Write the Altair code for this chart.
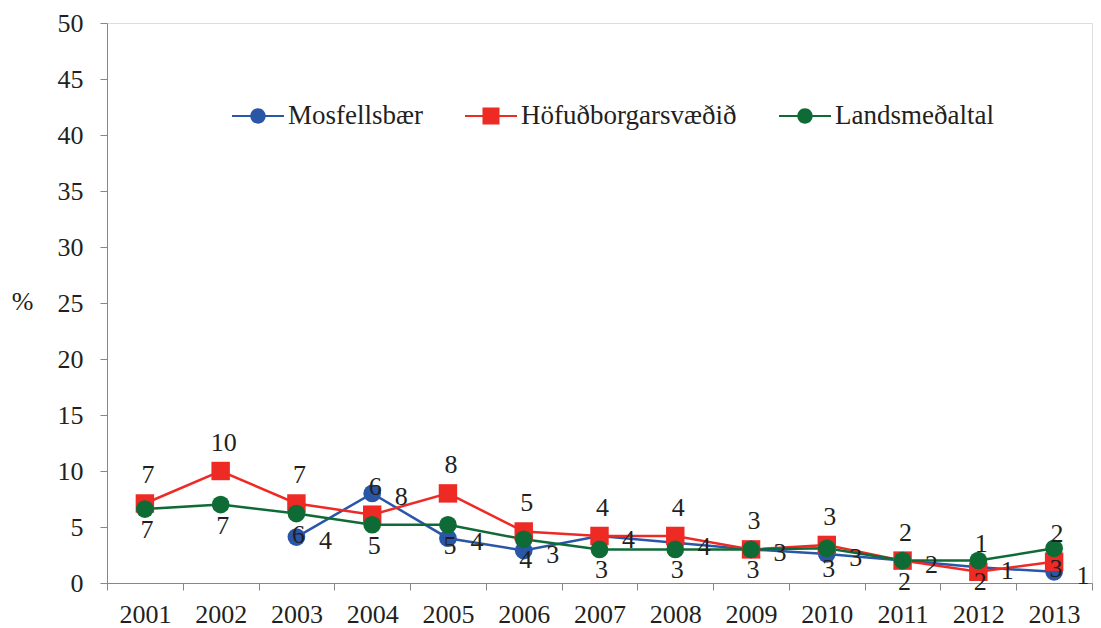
import altair as alt
import pandas as pd

years = ["2001", "2002", "2003", "2004", "2005", "2006", "2007",
         "2008", "2009", "2010", "2011", "2012", "2013"]
series = ["Mosfellsbær", "Höfuðborgarsvæðið", "Landsmeðaltal"]
mosfellsbaer = [None, None, 4.1, 8.0, 4.0, 2.9, 4.2, 3.6, 3.0, 2.6, 2.0, 1.4, 1.0]
hofudborgarsvaedid = [7.1, 10.0, 7.1, 6.1, 8.0, 4.6, 4.2, 4.2, 3.0, 3.4, 2.0, 1.0, 1.9]
landsmedaltal = [6.6, 7.0, 6.2, 5.2, 5.2, 3.9, 3.0, 3.0, 3.0, 3.1, 2.0, 2.0, 3.1]
colors = ["#2A56A8", "#EE2A25", "#0F6B36"]
y_ticks = [0, 5, 10, 15, 20, 25, 30, 35, 40, 45, 50]

rows = []
for name, vals in zip(series, [mosfellsbaer, hofudborgarsvaedid, landsmedaltal]):
    for yr, v in zip(years, vals):
        if v is not None:
            rows.append({"year": yr, "series": name, "value": v})
df = pd.DataFrame(rows)

FONT = "Liberation Serif"
FS = 26
TEXT = "#231F20"
AXIS = "#878787"
TOP = 15          # padding above plot area
PLOT_H = 560

color_scale = alt.Scale(domain=series, range=colors)

x_enc = alt.X(
    "year:O",
    sort=years,
    scale=alt.Scale(type="band", paddingInner=0, paddingOuter=0, domain=years),
    axis=alt.Axis(
        title=None, tickBand="extent", labelFont=FONT, labelFontSize=FS,
        labelColor=TEXT, labelPadding=11, tickSize=7, tickColor=AXIS,
        domainColor=AXIS, labelAngle=0, grid=False, labelOverlap=False,
    ),
)
y_enc = alt.Y(
    "value:Q",
    scale=alt.Scale(domain=[0, 50], nice=False),
    axis=alt.Axis(
        values=y_ticks, title="%", titleAngle=0, titleX=-85, titleY=301 - 8 - TOP,
        titleAlign="center", titleBaseline="middle", titleFont=FONT,
        titleFontSize=FS, titleFontWeight="normal", titleColor=TEXT,
        labelFont=FONT, labelFontSize=FS, labelColor=TEXT, labelPadding=17,
        tickSize=7, tickColor=AXIS, domainColor=AXIS, grid=False,
    ),
)

lines = alt.Chart(df).mark_line(strokeWidth=2.5).encode(
    x=x_enc, y=y_enc,
    color=alt.Color("series:N", scale=color_scale, legend=None),
    detail="series:N",
)

is_red = alt.datum.series == series[1]
points = alt.Chart(df).mark_point(filled=True, opacity=1, strokeWidth=0).encode(
    x=x_enc, y=y_enc,
    color=alt.Color("series:N", scale=color_scale, legend=None),
    shape=alt.condition(is_red, alt.value("square"), alt.value("circle")),
    size=alt.condition(is_red, alt.value(340), alt.value(314)),
)


def labels(name, dx, dy):
    return alt.Chart(df).transform_filter(alt.datum.series == name).mark_text(
        font=FONT, fontSize=FS, color=TEXT, dx=dx, dy=dy, baseline="middle"
    ).encode(x=x_enc, y=y_enc, text=alt.Text("value:Q", format=".0f"))


circle_path = ("M-1,-0.042H-0.25V0.042H-1Z M0.25,-0.042H1V0.042H0.25Z "
               "M0.296,0A0.296,0.296 0 1,1 -0.296,0A0.296,0.296 0 1,1 0.296,0Z")
square_path = ("M-1,-0.042H-0.3V0.042H-1Z M0.3,-0.042H1V0.042H0.3Z "
               "M-0.327,-0.327H0.327V0.327H-0.327Z")

leg = dict(
    orient="none", legendX=125, legendY=116 - 8 - TOP - 26, direction="horizontal",
    title=None, symbolSize=2704, symbolStrokeWidth=0, symbolOpacity=1,
    labelFont=FONT, labelFontSize=27, labelColor=TEXT, labelOffset=4,
    columnPadding=42, padding=0, labelLimit=400,
)
legend_layer = alt.Chart(df).transform_filter("false").mark_point(
    filled=True, strokeWidth=0
).encode(
    x=x_enc, y=y_enc,
    color=alt.Color("series:N", scale=color_scale, legend=alt.Legend(**leg)),
    shape=alt.Shape("series:N",
                    scale=alt.Scale(domain=series,
                                    range=[circle_path, square_path, circle_path]),
                    legend=alt.Legend(**leg)),
)

chart = alt.layer(
    lines, points,
    labels(series[0], 29, 4),
    labels(series[1], 3, -28),
    labels(series[2], 2, 21),
    legend_layer,
).resolve_legend(
    color="independent", shape="independent"
).properties(
    width=985, height=PLOT_H,
    autosize=alt.AutoSizeParams(type="none"),
    padding={"left": 99, "top": TOP, "right": 1, "bottom": 45},
).configure_view(stroke=None).configure(background="white")

chart.save("out.html", embed_options={"renderer": "svg", "actions": False})
